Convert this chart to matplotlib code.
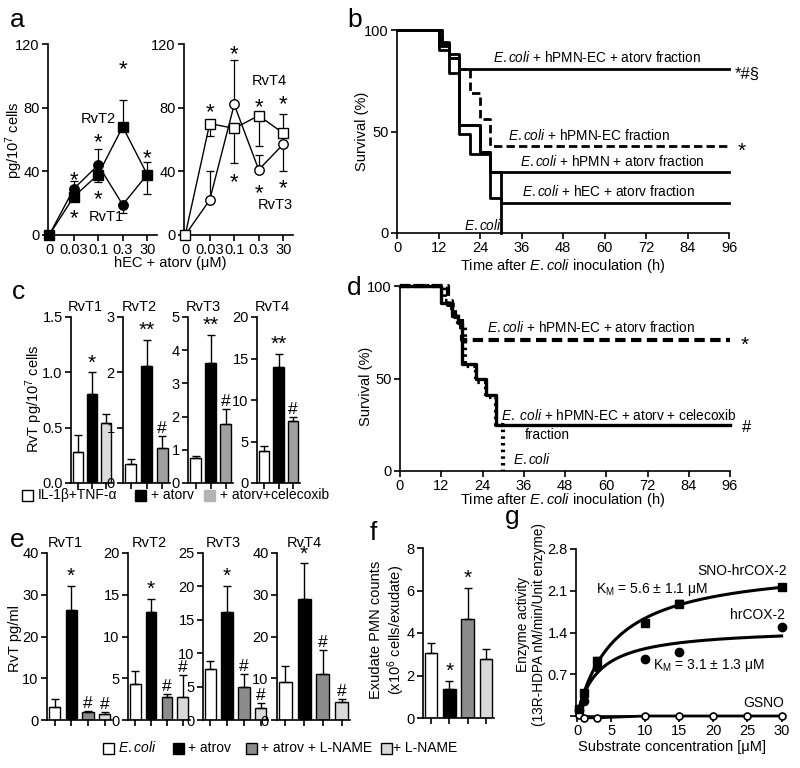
import matplotlib.pyplot as plt
import matplotlib.patches as mpatches
import numpy as np

plt.rcParams['font.family'] = ['Liberation Sans', 'DejaVu Sans']
plt.rcParams['font.size'] = 10
plt.rcParams['axes.linewidth'] = 1.2
plt.rcParams['mathtext.fontset'] = 'custom'
plt.rcParams['mathtext.rm'] = 'Liberation Sans'
plt.rcParams['mathtext.it'] = 'Liberation Sans:italic'

# ---- data ----
# a: lipid mediators vs atorvastatin dose
a_conc = ['0', '0.03', '0.1', '0.3', '30']
a_rvt1 = [0, 29, 44, 19, 38]
a_rvt1_lo = [0, 0, 0, 5, 0]
a_rvt1_hi = [0, 5, 10, 0, 0]
a_rvt2 = [0, 24, 38, 68, 38]
a_rvt2_lo = [0, 0, 5, 0, 12]
a_rvt2_hi = [0, 0, 0, 17, 8]
a_rvt3 = [0, 22, 82, 41, 57]
a_rvt3_lo = [0, 0, 0, 0, 17]
a_rvt3_hi = [0, 18, 28, 9, 0]
a_rvt4 = [0, 70, 67, 75, 64]
a_rvt4_lo = [0, 8, 22, 19, 0]
a_rvt4_hi = [0, 0, 0, 0, 12]
a_stars_left = [(1, 39), (1, 15), (2, 63), (2, 27), (3, 109), (4, 53)]
a_stars_right = [(1, 82), (2, 118), (2, 38), (3, 85), (3, 31), (4, 87), (4, 34)]

# b: survival (%) vs time (h)
b_t_atorv = [0, 13, 15, 18, 96]
b_s_atorv = [100, 93, 86, 81, 81]
b_t_pmnec = [0, 13, 15, 18, 21, 24, 27, 96]
b_s_pmnec = [100, 93, 86, 81, 69, 56, 43, 43]
b_t_pmn = [0, 12, 15, 18, 24, 27, 96]
b_s_pmn = [100, 94, 88, 53, 40, 30, 30]
b_t_hec = [0, 12, 15, 18, 21, 27, 30, 96]
b_s_hec = [100, 90, 79, 49, 39, 17, 15, 15]
b_t_ecoli = [0, 12, 15, 18, 21, 24, 27, 30]
b_s_ecoli = [100, 92, 86, 53, 53, 40, 30, 0]

# c: RvT in cells
c_titles = ['RvT1', 'RvT2', 'RvT3', 'RvT4']
c_vals = [[0.28, 0.80, 0.54], [0.35, 2.12, 0.63], [0.76, 3.62, 1.78], [3.85, 13.95, 7.45]]
c_errs = [[0.15, 0.20, 0.08], [0.08, 0.46, 0.22], [0.05, 0.84, 0.45], [0.65, 1.6, 0.45]]
c_ymax = [1.5, 3, 5, 20]
c_step = [0.5, 1, 1, 5]
c_marks = [['', '*', ''], ['', '**', '#'], ['', '**', '#'], ['', '**', '#']]

# d: survival (%) vs time (h)
d_t_atorv = [0, 14, 16, 18, 96]
d_s_atorv = [100, 90, 83, 71, 71]
d_t_celx = [0, 12, 15, 17, 18, 22, 25, 28, 96]
d_s_celx = [100, 91, 84, 80, 58, 50, 41, 25, 25]
d_t_ecoli = [0, 13, 15, 17, 19, 22, 25, 28, 30]
d_s_ecoli = [100, 92, 85, 78, 57, 48, 40, 25, 0]

# e: RvT in exudates
e_titles = ['RvT1', 'RvT2', 'RvT3', 'RvT4']
e_vals = [[3.2, 26.3, 1.8, 1.4], [4.3, 12.9, 2.7, 2.8], [7.7, 16.2, 5.0, 1.8], [9.1, 29.0, 11.0, 4.2]]
e_errs = [[1.8, 5.9, 0.35, 0.6], [1.6, 1.6, 0.4, 2.6], [1.2, 3.9, 1.9, 0.75], [3.8, 8.5, 5.7, 0.8]]
e_ymax = [40, 20, 25, 40]
e_step = [10, 5, 5, 10]
e_marks = [['', '*', '#', '#']] * 4
e_title_x = [0.28, 0.34, 0.32, 0.38]

# f: exudate PMN
f_vals = [3.05, 1.38, 4.68, 2.78]
f_errs = [0.5, 0.38, 1.45, 0.45]
f_marks = ['', '*', '*', '']

# g: enzyme kinetics
g_conc = [0.25, 1, 3, 10, 15, 30]
g_sno = [0.12, 0.38, 0.93, 1.56, 1.88, 2.16]
g_sno_err = [0, 0, 0.06, 0, 0.06, 0]
g_cox = [0.10, 0.25, 0.82, 0.95, 1.07, 1.49]
g_gsno_conc = [0.25, 1, 3, 10, 15, 20, 25, 30]
g_gsno = [0.02, -0.03, -0.03, 0, 0, 0, 0, 0]
g_km = [5.6, 3.1]
g_vmax = [2.56, 1.48]

bar_cols3 = ['white', 'black', '#a0a0a0']
bar_cols4 = ['white', 'black', '#8c8c8c', '#d9d9d9']

W, H = 800, 768
fig = plt.figure(figsize=(8, 7.68), dpi=100)
TICK = 10.5
LAB = 10.5


def px_axes(l, t, r, b):
    return fig.add_axes([l / W, 1 - b / H, (r - l) / W, (b - t) / H])


def style(ax):
    ax.spines['top'].set_visible(False)
    ax.spines['right'].set_visible(False)
    ax.tick_params(length=4, width=1.2, labelsize=TICK, pad=2)


def ftext(x, y, s, **kw):
    fig.text(x / W, 1 - y / H, s, **kw)


def ylab(x, y, s, size=LAB):
    fig.text(x / W, 1 - y / H, s, rotation=90, ha='center', va='center', fontsize=size,
             multialignment='center')


# ---- panel a ----
for side, (l, r) in enumerate([(48, 157), (184, 293)]):
    ax = px_axes(l, 44, r, 235)
    style(ax)
    xs = np.arange(len(a_conc))
    if side == 0:
        series = [(a_rvt1, a_rvt1_lo, a_rvt1_hi, 'o', 'black'),
                  (a_rvt2, a_rvt2_lo, a_rvt2_hi, 's', 'black')]
        stars = a_stars_left
    else:
        series = [(a_rvt3, a_rvt3_lo, a_rvt3_hi, 'o', 'white'),
                  (a_rvt4, a_rvt4_lo, a_rvt4_hi, 's', 'white')]
        stars = a_stars_right
    for vals, lo, hi, mk, fc in series:
        ax.errorbar(xs, vals, yerr=[lo, hi], fmt='none', ecolor='k', elinewidth=0.9,
                    capsize=3, capthick=0.9, clip_on=False)
        ax.plot(xs, vals, marker=mk, color='k', mfc=fc, mec='k', mew=1, ms=6.8, lw=1,
                clip_on=False, zorder=3)
    for sx, sy in stars:
        ax.text(sx, sy - 5, '*', ha='center', va='center', fontsize=16)
    ax.set_xlim(-0.05, 4.4)
    ax.set_ylim(0, 120)
    ax.set_xticks(xs)
    ax.set_xticklabels(a_conc)
    ax.set_yticks([0, 40, 80, 120])
    if side == 0:
        ax.text(1.3, 73, 'RvT2', fontsize=LAB, va='center')
        ax.text(1.6, 11, 'RvT1', fontsize=LAB, va='center')
    else:
        ax.text(2.7, 97, 'RvT4', fontsize=LAB, va='center')
        ax.text(2.95, 19, 'RvT3', fontsize=LAB, va='center')
ftext(10, 20, 'a', fontsize=19, va='center')
ylab(14, 140, 'pg/10$^7$ cells')
ftext(170, 263, 'hEC + atorv (μM)', ha='center', va='center', fontsize=LAB)

# ---- panel b ----
ax = px_axes(397, 30, 729, 233)
style(ax)
ax.plot(b_t_ecoli, b_s_ecoli, drawstyle='steps-post', color='k', lw=2, clip_on=False)
ax.plot(b_t_hec, b_s_hec, drawstyle='steps-post', color='k', lw=2, clip_on=False)
ax.plot(b_t_pmn, b_s_pmn, drawstyle='steps-post', color='k', lw=2, clip_on=False)
ax.plot(b_t_pmnec, b_s_pmnec, drawstyle='steps-post', color='k', lw=2, dashes=(3, 1.5),
        clip_on=False)
ax.plot(b_t_atorv, b_s_atorv, drawstyle='steps-post', color='k', lw=2, clip_on=False)
ax.set_xlim(0, 96)
ax.set_ylim(0, 100)
ax.set_xticks(range(0, 97, 12))
ax.set_yticks([0, 50, 100])
ftext(493, 58, r'$\mathit{E.coli}$ + hPMN-EC + atorv fraction', fontsize=9.8, va='center')
ftext(508, 136, r'$\mathit{E.coli}$ + hPMN-EC fraction', fontsize=9.8, va='center')
ftext(520, 162, r'$\mathit{E.coli}$ + hPMN + atorv fraction', fontsize=9.8, va='center')
ftext(522, 192, r'$\mathit{E.coli}$ + hEC + atorv fraction', fontsize=9.8, va='center')
ftext(464, 226, r'$\mathit{E.coli}$', fontsize=9.8, va='center')
ftext(735, 74, '*#§', fontsize=12, va='center')
ftext(738, 151, '*', fontsize=15, va='center')
ftext(347, 20, 'b', fontsize=19, va='center')
ylab(362, 131, 'Survival (%)')
ftext(563, 266, r'Time after $\mathit{E.coli}$ inoculation (h)', ha='center', va='center',
      fontsize=LAB)

# ---- panel c ----
c_pos = [(71, 113), (123, 170), (188, 233), (257, 300)]
for i, (l, r) in enumerate(c_pos):
    ax = px_axes(l, 317, r, 483)
    style(ax)
    xs = np.arange(3)
    cols = ['white', 'black', '#dcdcdc'] if i == 0 else bar_cols3
    ax.bar(xs, c_vals[i], width=0.72, color=cols, edgecolor='k', lw=1)
    ax.errorbar(xs, c_vals[i], yerr=[[0] * 3, c_errs[i]], fmt='none', ecolor='k',
                elinewidth=1, capsize=3, capthick=1)
    for j, m in enumerate(c_marks[i]):
        if m:
            ax.annotate(m, (j, c_vals[i][j] + c_errs[i][j]), xytext=(0, 0),
                        textcoords='offset points', ha='center', va='bottom',
                        fontsize=15 if '*' in m else 12.5)
    ax.set_xlim(-0.5, 2.5)
    ax.set_ylim(0, c_ymax[i])
    ax.set_xticks(xs)
    ax.set_xticklabels([])
    ax.set_yticks(np.arange(0, c_ymax[i] + 1e-9, c_step[i]))
    if i == 0:
        ax.set_yticklabels(['0.0', '0.5', '1.0', '1.5'])
    ax.set_title(c_titles[i], fontsize=LAB, pad=4, x=0.35)
ftext(12, 292, 'c', fontsize=19, va='center')
ylab(34, 399, 'RvT pg/10$^7$ cells')
c_leg = [(22, 'white', 'IL-1β+TNF-α'), (135, 'black', '+ atorv'), (204, '#b4b4b4', '+ atorv+celecoxib')]
for x0, col, lab in c_leg:
    fig.patches.append(mpatches.Rectangle((x0 / W, 1 - 501 / H), 11 / W, 11 / H, fc=col,
                                          ec='k' if col != '#b4b4b4' else col, lw=1,
                                          transform=fig.transFigure))
    ftext(x0 + 16, 495, lab, fontsize=10, va='center')

# ---- panel d ----
ax = px_axes(400, 286, 730, 471)
style(ax)
ax.plot(d_t_celx, d_s_celx, drawstyle='steps-post', color='k', lw=2.4, clip_on=False)
ax.plot(d_t_ecoli, d_s_ecoli, drawstyle='steps-post', color='k', lw=3, dashes=(0.6, 1.0),
        clip_on=False)
ax.plot(d_t_atorv, d_s_atorv, drawstyle='steps-post', color='k', lw=3, dashes=(2.5, 1.3),
        clip_on=False)
ax.set_xlim(0, 96)
ax.set_ylim(0, 100)
ax.set_xticks(range(0, 97, 12))
ax.set_yticks([0, 50, 100])
ftext(487, 328, r'$\mathit{E.coli}$ + hPMN-EC + atorv fraction', fontsize=9.8, va='center')
ftext(741, 345, '*', fontsize=15, va='center')
ftext(501, 415, r'$\mathit{E.}$ $\mathit{coli}$ + hPMN-EC + atorv + celecoxib', fontsize=9.8,
      va='center')
ftext(525, 435, 'fraction', fontsize=9.8, va='center')
ftext(742, 428, '#', fontsize=12, va='center')
ftext(513, 460, r'$\mathit{E.coli}$', fontsize=9.8, va='center')
ftext(347, 288, 'd', fontsize=19, va='center')
ylab(366, 386, 'Survival (%)')
ftext(563, 500, r'Time after $\mathit{E.coli}$ inoculation (h)', ha='center', va='center',
      fontsize=LAB)

# ---- panel e ----
e_pos = [(47, 112), (128, 190), (203, 268), (277, 350)]
for i, (l, r) in enumerate(e_pos):
    ax = px_axes(l, 553, r, 720)
    style(ax)
    xs = np.arange(4)
    ax.bar(xs, e_vals[i], width=0.68, color=bar_cols4, edgecolor='k', lw=1)
    ax.errorbar(xs, e_vals[i], yerr=[[0] * 4, e_errs[i]], fmt='none', ecolor='k',
                elinewidth=1, capsize=3, capthick=1)
    for j, m in enumerate(e_marks[i]):
        if m:
            ax.annotate(m, (j, e_vals[i][j] + e_errs[i][j]), xytext=(0, 0),
                        textcoords='offset points', ha='center', va='bottom',
                        fontsize=15 if '*' in m else 12.5)
    ax.set_xlim(-0.45, 3.45)
    ax.set_ylim(0, e_ymax[i])
    ax.set_xticks(xs)
    ax.set_xticklabels([])
    ax.set_yticks(np.arange(0, e_ymax[i] + 1e-9, e_step[i]))
    ax.set_title(e_titles[i], fontsize=LAB, pad=4, x=e_title_x[i])
ftext(10, 540, 'e', fontsize=19, va='center')
ylab(15, 638, 'RvT pg/ml')
e_leg = [(103, 'white', r'$\mathit{E.coli}$'), (173, 'black', '+ atrov'),
         (246, '#8c8c8c', '+ atrov + L-NAME'), (381, '#d9d9d9', '+ L-NAME')]
for x0, col, lab in e_leg:
    fig.patches.append(mpatches.Rectangle((x0 / W, 1 - 754 / H), 11 / W, 11 / H, fc=col,
                                          ec='k', lw=1, transform=fig.transFigure))
    ftext(x0 + 15 if x0 < 380 else x0 + 12, 748, lab, fontsize=10, va='center')

# ---- panel f ----
ax = px_axes(423, 548, 494, 718)
style(ax)
xs = np.arange(4)
ax.bar(xs, f_vals, width=0.68, color=bar_cols4, edgecolor='k', lw=1)
ax.errorbar(xs, f_vals, yerr=[[0] * 4, f_errs], fmt='none', ecolor='k', elinewidth=1,
            capsize=3, capthick=1)
for j, m in enumerate(f_marks):
    if m:
        ax.annotate(m, (j, f_vals[j] + f_errs[j]), xytext=(0, 0), textcoords='offset points',
                    ha='center', va='bottom', fontsize=15)
ax.set_xlim(-0.44, 3.44)
ax.set_ylim(0, 8)
ax.set_xticks(xs)
ax.set_xticklabels([])
ax.set_yticks([0, 2, 4, 6, 8])
ftext(370, 533, 'f', fontsize=19, va='center')
ylab(388, 630, 'Exudate PMN counts\n(x10$^6$ cells/exudate)')

# ---- panel g ----
ax = px_axes(576, 549, 785, 716)
style(ax)
s = np.linspace(0.3, 30, 200)
ax.plot(s, g_vmax[0] * s / (g_km[0] + s), color='k', lw=2.2)
ax.plot(s, g_vmax[1] * s / (g_km[1] + s), color='k', lw=2.2)
ax.errorbar(g_conc, g_sno, yerr=g_sno_err, fmt='s', color='k', ms=6, capsize=3,
            elinewidth=1, zorder=3, clip_on=False)
ax.plot(g_conc, g_cox, 'o', color='k', ms=6, zorder=3, clip_on=False)
ax.plot(g_gsno_conc, g_gsno, '-o', color='k', mfc='white', ms=5, lw=2, mew=1.2, zorder=3,
        clip_on=False)
ax.set_xlim(-0.15, 30.5)
ax.set_ylim(0, 2.8)
ax.set_xticks(range(0, 31, 5))
ax.set_yticks([0, 0.7, 1.4, 2.1, 2.8])
ax.set_yticklabels(['', '0.7', '1.4', '2.1', '2.8'])
ftext(697, 571, 'SNO-hrCOX-2', fontsize=10, va='center')
ftext(596, 590, r'K$_\mathrm{M}$ = 5.6 ± 1.1 μM', fontsize=10, va='center')
ftext(730, 615, 'hrCOX-2', fontsize=10, va='center')
ftext(653, 665, r'K$_\mathrm{M}$ = 3.1 ± 1.3 μM', fontsize=10, va='center')
ftext(743, 703, 'GSNO', fontsize=10, va='center')
ftext(505, 517, 'g', fontsize=19, va='center')
ylab(531, 624, 'Enzyme activity\n(13R-HDPA nM/min/Unit enzyme)', size=9.8)
ftext(672, 747, 'Substrate concentration [μM]', ha='center', va='center', fontsize=LAB)

fig.savefig('out.png', dpi=100)
